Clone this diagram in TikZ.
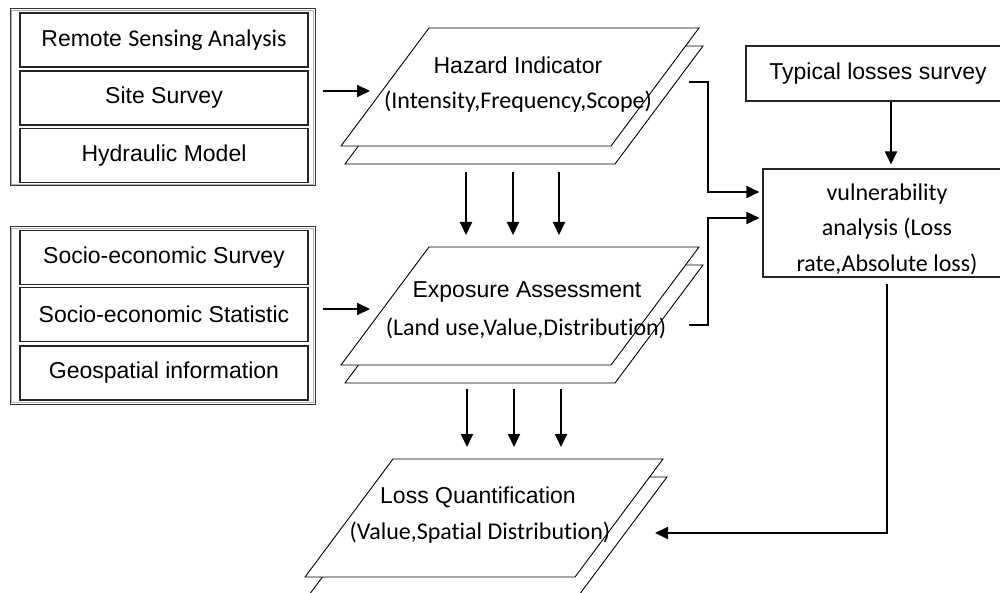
\documentclass[tikz,border=0pt]{standalone}
\usepackage{fontspec}
\setmainfont{Liberation Sans}
\newfontfamily\calib[Ligatures=NoCommon]{Carlito}
\usetikzlibrary{arrows.meta}
\begin{document}
\begin{tikzpicture}[x=1pt,y=-1pt,
  srcbox/.style={draw=black!85, line width=1.1pt, minimum width=288pt, minimum height=54pt,
    inner sep=0pt, font=\fontsize{23}{27}\selectfont},
  outerline/.style={draw=black!80, line width=1pt},
  innerline/.style={draw=gray!60, line width=0.8pt},
  sheetline/.style={draw=black, line width=0.9pt, fill=white, line join=miter},
  conn/.style={draw=black, line width=1.9pt, -{Triangle[length=13pt,width=12pt]}},
  ttl/.style={font=\fontsize{23}{27}\selectfont, inner sep=0pt},
  sub/.style={font=\calib\fontsize{24}{28}\selectfont, inner sep=0pt},
  rbox/.style={draw=black!85, line width=1.1pt, inner sep=0pt},
  sheet/.pic={\path[sheetline] (0,0) -- (270,0) -- (358,-118) -- (88,-118) -- cycle;}
]
\useasboundingbox (0,0) rectangle (1000,593);
\clip (0,0) rectangle (1000,593);

% --- hazard data sources ---
\draw[outerline] (10,9) rectangle (315,186);
\draw[innerline] (11.8,10.8) rectangle (313.2,184.2);
\node[srcbox] (rs) at (164,40) {Remote {\calib\fontsize{24}{27}\selectfont Sensing Analysis}};
\node[srcbox] (ss) at (164,98) {Site Survey};
\node[srcbox] (hm) at (164,155.5) {Hydraulic Model};

% --- exposure data sources ---
\draw[outerline] (10,227) rectangle (315,404);
\draw[innerline] (11.8,228.8) rectangle (313.2,402.2);
\node[srcbox] (ses) at (164,257.5) {Socio-economic Survey};
\node[srcbox] (sest) at (164,314.5) {Socio-economic Statistic};
\node[srcbox] (geo) at (164,373) {Geospatial information};

% --- layered sheets ---
\pic at (345,164) {sheet};
\pic at (341,146) {sheet};
\pic at (345,383) {sheet};
\pic at (341,365) {sheet};
\pic at (309,595) {sheet};
\pic at (305,577) {sheet};

\node[ttl] (hazT) at (518,65) {Hazard Indicator};
\node[sub] (hazS) at (518,102) {(Intensity,Frequency,Scope)};
\node[ttl] (expT) at (527,292) {Exposure Assessment};
\node[sub] (expS) at (526,328) {(Land use,Value,Distribution)};
\node[ttl] (lossT) at (478,497) {Loss Quantification};
\node[sub] (lossS) at (480,533) {(Value,Spatial Distribution)};

% --- right column ---
\node[rbox, minimum width=264pt, minimum height=55pt, font=\fontsize{23}{27}\selectfont]
  (typ) at (878,73.5) {Typical losses survey};
\node[rbox, minimum width=247pt, minimum height=108pt] (vul) at (886.5,223) {};
\node[align=center, inner sep=0pt, font=\calib\fontsize{24}{35.5}\selectfont]
  (vultext) at (887,229) {vulnerability\\analysis (Loss\\rate,Absolute loss)};

% --- connector anchors ---
\coordinate (srcA) at (323,91);   \coordinate (hazIn) at (370,91);
\coordinate (srcB) at (323,309);  \coordinate (expIn) at (370,309);
\coordinate (h1) at (466,172); \coordinate (e1) at (466,235);
\coordinate (h2) at (513,172); \coordinate (e2) at (513,235);
\coordinate (h3) at (559,172); \coordinate (e3) at (559,235);
\coordinate (x1) at (467,389); \coordinate (l1) at (467,447);
\coordinate (x2) at (514,389); \coordinate (l2) at (514,447);
\coordinate (x3) at (561,389); \coordinate (l3) at (561,447);
\coordinate (hazOut) at (689,82);
\coordinate (expOut) at (689,325);
\coordinate (typX) at (891,0);
\coordinate (vulX) at (887,0);
\coordinate (lossIn) at (655,533);

\draw[conn] (srcA) -- (hazIn);
\draw[conn] (srcB) -- (expIn);
\foreach \a/\b in {h1/e1,h2/e2,h3/e3,x1/l1,x2/l2,x3/l3}
  \draw[conn] (\a) -- (\b);

\draw[conn, shorten >=3pt] (hazOut) -- (708,82) -- (708,192) -- (vul.west |- 0,192);
\draw[conn, shorten >=3pt] (expOut) -- (708,325) -- (708,218) -- (vul.west |- 0,218);
\draw[conn, shorten >=4pt] (typ.south -| typX) -- (vul.north -| typX);
\draw[conn] ([yshift=-6pt]vul.south -| vulX) -- (vulX |- lossIn) -- (lossIn);
\end{tikzpicture}
\end{document}
